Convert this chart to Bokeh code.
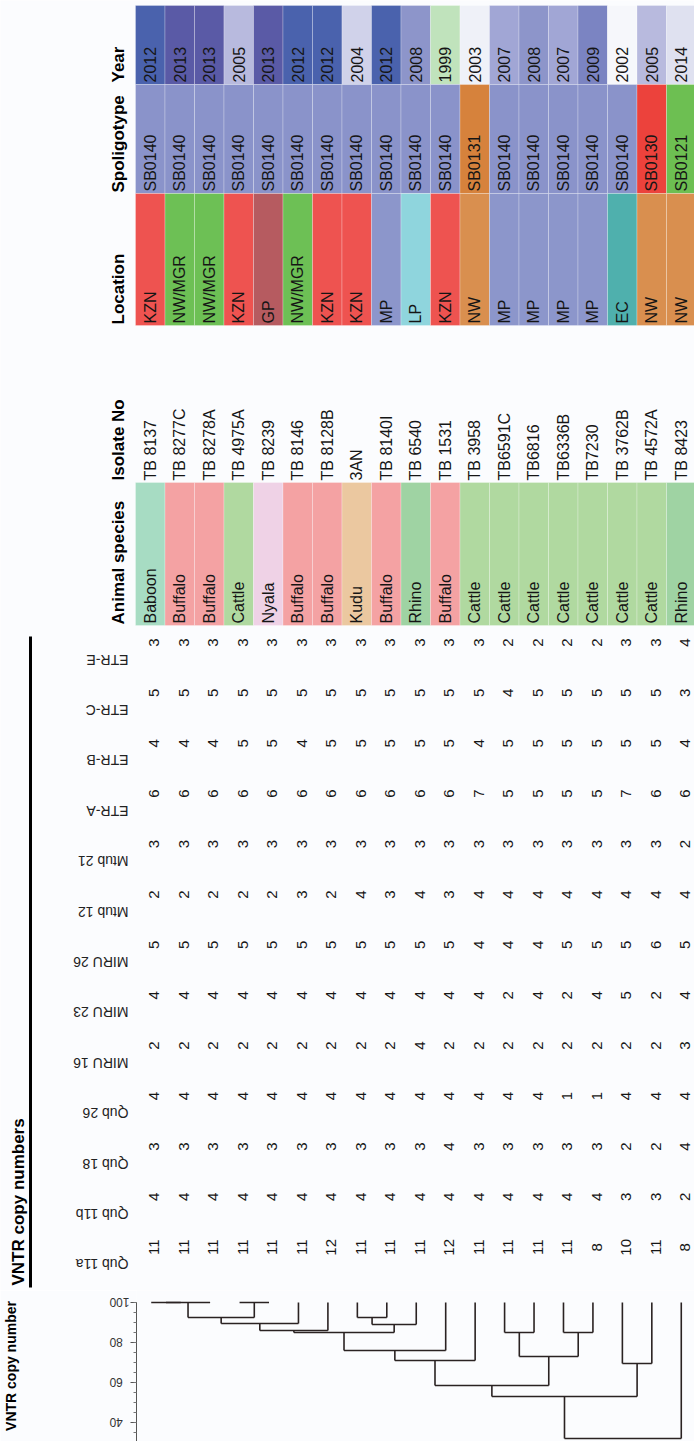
import math
from bokeh.plotting import figure
from bokeh.layouts import column
from bokeh.models import Range1d, SingleIntervalTicker
from bokeh.core.properties import value
from bokeh.embed import file_html
from bokeh.resources import INLINE

# ---------------- data ----------------
species = ["Baboon", "Buffalo", "Buffalo", "Cattle", "Nyala", "Buffalo", "Buffalo", "Kudu",
           "Buffalo", "Rhino", "Buffalo", "Cattle", "Cattle", "Cattle", "Cattle", "Cattle",
           "Cattle", "Cattle", "Rhino"]
isolates = ["TB 8137", "TB 8277C", "TB 8278A", "TB 4975A", "TB 8239", "TB 8146", "TB 8128B",
            "3AN", "TB 8140I", "TB 6540", "TB 1531", "TB 3958", "TB6591C", "TB6816",
            "TB6336B", "TB7230", "TB 3762B", "TB 4572A", "TB 8423"]
locations = ["KZN", "NW/MGR", "NW/MGR", "KZN", "GP", "NW/MGR", "KZN", "KZN", "MP", "LP",
             "KZN", "NW", "MP", "MP", "MP", "MP", "EC", "NW", "NW"]
spoligotypes = ["SB0140"] * 11 + ["SB0131"] + ["SB0140"] * 5 + ["SB0130", "SB0121"]
years = ["2012", "2013", "2013", "2005", "2013", "2012", "2012", "2004", "2012", "2008",
         "1999", "2003", "2007", "2008", "2007", "2009", "2002", "2005", "2014"]

loci = ["ETR-E", "ETR-C", "ETR-B", "ETR-A", "Mtub 21", "Mtub 12", "MIRU 26", "MIRU 23",
        "MIRU 16", "Qub 26", "Qub 18", "Qub 11b", "Qub 11a"]
etr_e = [3, 3, 3, 3, 3, 3, 3, 3, 3, 3, 3, 3, 2, 2, 2, 2, 3, 3, 4]
etr_c = [5, 5, 5, 5, 5, 5, 5, 5, 5, 5, 5, 5, 4, 5, 5, 5, 5, 5, 3]
etr_b = [4, 4, 4, 5, 5, 4, 5, 5, 5, 5, 5, 4, 5, 5, 5, 5, 5, 5, 4]
etr_a = [6, 6, 6, 6, 6, 6, 6, 6, 6, 6, 6, 7, 5, 5, 5, 5, 7, 6, 6]
mtub21 = [3, 3, 3, 3, 3, 3, 3, 3, 3, 3, 3, 3, 3, 3, 3, 3, 3, 3, 2]
mtub12 = [2, 2, 2, 2, 2, 3, 2, 4, 3, 4, 3, 4, 4, 4, 4, 4, 4, 4, 4]
miru26 = [5, 5, 5, 5, 5, 5, 5, 5, 5, 5, 5, 4, 4, 4, 5, 5, 5, 6, 5]
miru23 = [4, 4, 4, 4, 4, 4, 4, 4, 4, 4, 4, 4, 2, 4, 2, 4, 5, 2, 4]
miru16 = [2, 2, 2, 2, 2, 2, 2, 2, 2, 4, 2, 2, 2, 2, 2, 2, 2, 2, 3]
qub26 = [4, 4, 4, 4, 4, 4, 4, 4, 4, 4, 4, 4, 4, 4, 1, 1, 4, 4, 4]
qub18 = [3, 3, 3, 3, 3, 3, 3, 3, 3, 3, 4, 3, 3, 3, 3, 3, 2, 2, 4]
qub11b = [4, 4, 4, 4, 4, 4, 4, 4, 4, 4, 4, 4, 4, 4, 4, 4, 3, 3, 2]
qub11a = [11, 11, 11, 11, 11, 11, 12, 11, 11, 11, 12, 11, 11, 11, 11, 8, 10, 11, 8]
copy_numbers = [etr_e, etr_c, etr_b, etr_a, mtub21, mtub12, miru26, miru23, miru16,
                qub26, qub18, qub11b, qub11a]

# dendrogram: leaves 0..18, merge k creates node 19+k
merge_a = [0, 19, 3, 20, 22, 23, 7, 25, 24, 27, 28, 12, 14, 30, 29, 16, 33, 35]
merge_b = [1, 2, 4, 21, 5, 6, 8, 9, 26, 10, 11, 13, 15, 31, 32, 17, 34, 18]
merge_sim = [100, 100, 100, 92.5, 89.5, 86, 92.5, 89, 85, 76, 71, 85, 85, 73, 58.5, 69.5, 53, 32]

# ---------------- styles ----------------
year_colors = {"2012": "#4a62ad", "2013": "#5a5aa6", "2005": "#b8bade", "2004": "#d0d2ea",
               "2008": "#8d95ca", "1999": "#c0e3bc", "2003": "#eff1f8", "2007": "#a1a6d5",
               "2009": "#7b84c2", "2002": "#f6f7fb", "2014": "#dfe1f0"}
spol_colors = {"SB0140": "#8a93ca", "SB0131": "#d6823c", "SB0130": "#ec423c", "SB0121": "#6dbf52"}
loc_colors = {"KZN": "#ee5350", "NW/MGR": "#6dc055", "GP": "#b65b60", "MP": "#8c96cb",
              "LP": "#8fd5dd", "NW": "#d98f4f", "EC": "#4fb0ad"}
spec_colors = {"Baboon": "#a7dcc3", "Buffalo": "#f4a2a3", "Cattle": "#b0d9a0",
               "Nyala": "#efd2e6", "Kudu": "#ebc8a0", "Rhino": "#9fd3a3"}

W = 694
TOP_H = 1290
BOT_H = 151
LEFT = 135
COL_W = 29.5
BG = "#fbfcfe"
FONT = "Liberation Sans"
TXT = "#151515"
n = len(isolates)
xc = [LEFT + COL_W * (i + 0.5) for i in range(n)]
xl = [LEFT + COL_W * i for i in range(n)]
xr = [LEFT + COL_W * (i + 1) for i in range(n)]

top = figure(width=W, height=TOP_H, x_range=Range1d(0, W), y_range=Range1d(TOP_H, 0),
             x_axis_location=None, y_axis_location=None, output_backend="svg",
             toolbar_location=None, min_border=0, background_fill_color=BG,
             border_fill_color=BG, outline_line_color=None)
top.grid.visible = False
top.frame_align = False

# colored bands: (top, bottom) in layout pixels
bands = [
    (years, year_colors, 5, 84),
    (spoligotypes, spol_colors, 84, 193),
    (locations, loc_colors, 193, 325),
    (species, spec_colors, 482, 625),
]
for labels, cmap, y0, y1 in bands:
    top.quad(left=xl, right=xr, top=[y0] * n, bottom=[y1] * n,
             fill_color=[cmap[v] for v in labels], line_color="white", line_alpha=0.25,
             line_width=1)
    top.text(x=xc, y=[y1 - 2] * n, text=labels, angle=math.pi / 2, text_align="left",
             text_baseline="middle", text_font=value(FONT), text_font_size=value("16px"),
             text_color=TXT)

# isolate numbers (no background)
top.text(x=xc, y=[480] * n, text=isolates, angle=math.pi / 2, text_align="left",
         text_baseline="middle", text_font=value(FONT), text_font_size=value("16px"),
         text_color=TXT)

# column headers
headers = ["Year", "Spoligotype", "Location", "Isolate No", "Animal species"]
header_bottoms = [82, 192, 324, 480, 624]
top.text(x=[118] * len(headers), y=header_bottoms, text=headers, angle=math.pi / 2,
         text_align="left", text_baseline="middle", text_font=value(FONT),
         text_font_size=value("17px"), text_font_style="bold", text_color="#000000")

# VNTR copy numbers table
ROW0 = 642
ROW_STEP = 50.4
row_y = [ROW0 + ROW_STEP * r for r in range(len(loci))]
for r, vals in enumerate(copy_numbers):
    top.text(x=[x + 4 for x in xc], y=[row_y[r]] * n, text=[str(v) for v in vals],
             angle=math.pi / 2, text_align="center", text_baseline="middle",
             text_font=value(FONT), text_font_size=value("15px"), text_color=TXT)
top.text(x=[128] * len(loci), y=[y + 17 for y in row_y], text=loci, angle=math.pi,
         text_align="left", text_baseline="middle", text_font=value(FONT),
         text_font_size=value("14px"), text_color="#222222")

top.segment(x0=[30], y0=[636], x1=[30], y1=[1287], line_width=3, line_color="#000000")
top.text(x=[18], y=[1285], text=["VNTR copy numbers"], angle=math.pi / 2, text_align="left",
         text_baseline="middle", text_font=value(FONT), text_font_size=value("17px"),
         text_font_style="bold", text_color="#000000")

# ---------------- dendrogram ----------------
bot = figure(width=W, height=BOT_H, x_range=Range1d(LEFT, W), y_range=Range1d(30.5, 106),
             x_axis_location=None, y_axis_location="left", output_backend="svg",
             toolbar_location=None, min_border_left=LEFT, min_border_right=0,
             min_border_top=0, min_border_bottom=0, background_fill_color=BG,
             border_fill_color=BG, outline_line_color=None)
bot.grid.visible = False
bot.frame_align = False
ax = bot.yaxis[0]
ax.ticker = SingleIntervalTicker(interval=20, num_minor_ticks=4)
ax.bounds = (30, 100)
ax.major_label_orientation = math.pi
ax.major_label_text_font = FONT
ax.major_label_text_font_size = "12px"
ax.major_label_text_color = "#333333"
ax.major_label_standoff = 21
ax.major_tick_out = 6
ax.major_tick_in = 0
ax.minor_tick_out = 3
ax.minor_tick_in = 0
ax.axis_line_color = "#555555"
ax.major_tick_line_color = "#555555"
ax.minor_tick_line_color = "#777777"
ax.axis_label = "VNTR copy number"
ax.axis_label_text_font = FONT
ax.axis_label_text_font_size = "14px"
ax.axis_label_text_font_style = "bold"
ax.axis_label_text_color = "#000000"
ax.axis_label_standoff = 67

node_x = list(xc)
node_h = [100.0] * n
sx0, sy0, sx1, sy1 = [], [], [], []
for a, b, s in zip(merge_a, merge_b, merge_sim):
    xa, xb = node_x[a], node_x[b]
    sx0 += [xa, xb, xa]
    sy0 += [node_h[a], node_h[b], s]
    sx1 += [xa, xb, xb]
    sy1 += [s, s, s]
    node_x.append((xa + xb) / 2)
    node_h.append(s)
bot.segment(x0=sx0, y0=sy0, x1=sx1, y1=sy1, line_width=1.6, line_color="#2a2222")

layout = column(top, bot, spacing=0)
open("out.html", "w").write(file_html(layout, INLINE, title="VNTR dendrogram"))
